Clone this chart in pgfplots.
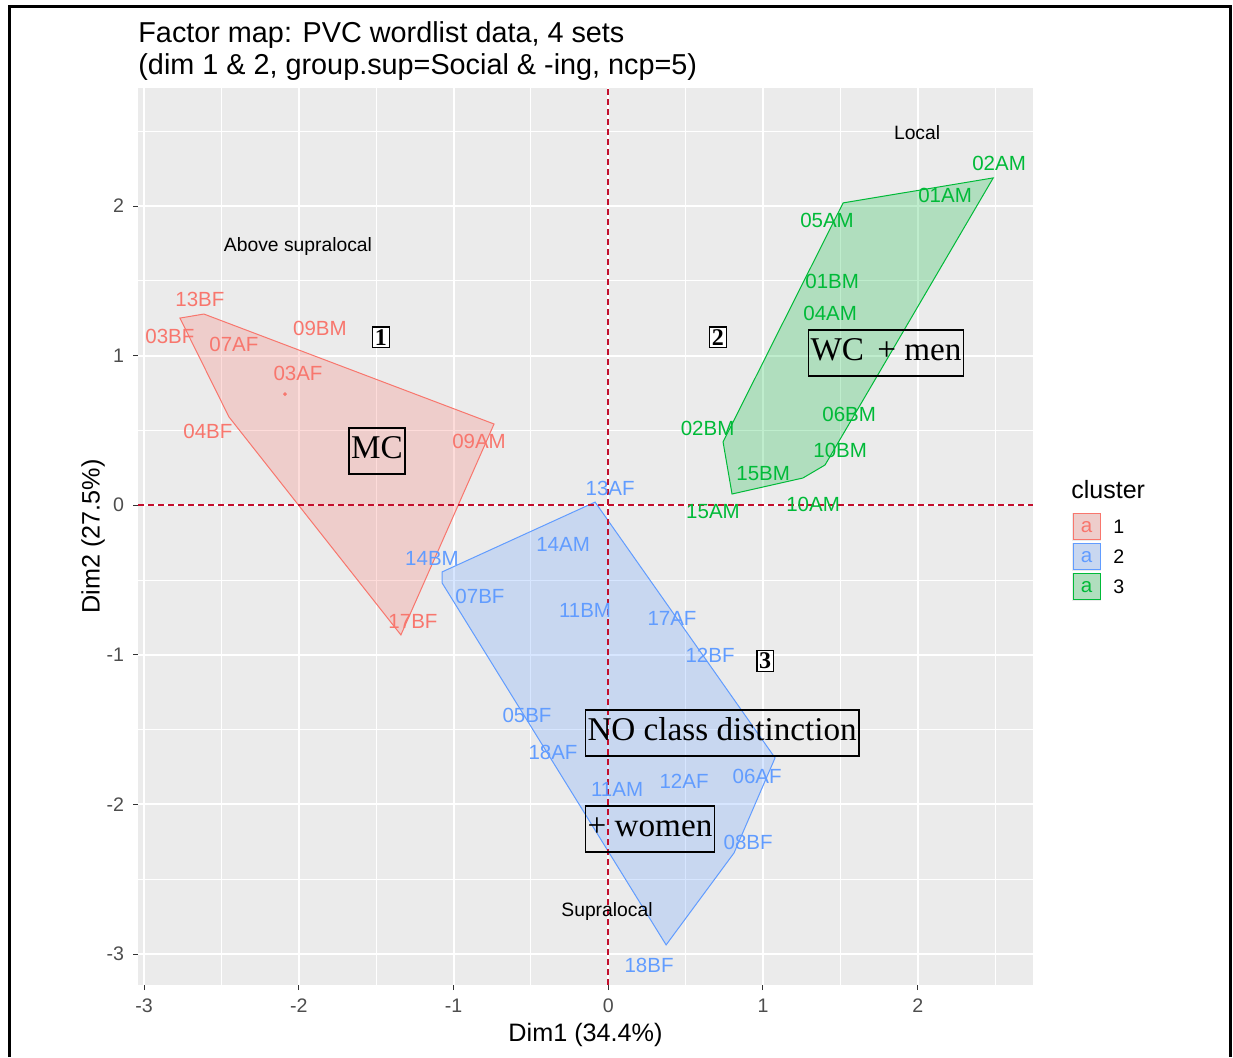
\documentclass[border=0pt]{standalone}
\usepackage{pgfplots}
\usepackage{pgfplotstable}
\pgfplotsset{compat=1.18}
\usepackage{fontspec}
\setmainfont{Liberation Sans}
\newfontfamily\annfont{Liberation Serif}
\definecolor{cr}{HTML}{F8766D}
\definecolor{cb}{HTML}{619CFF}
\definecolor{cg}{HTML}{00BA38}
\definecolor{panel}{HTML}{EBEBEB}
\definecolor{gray30}{HTML}{4D4D4D}
\definecolor{gray20}{HTML}{333333}
\definecolor{dashred}{RGB}{195,15,45}

\pgfplotstableread{
x y label
-2.639 1.378 13BF
-2.833 1.131 03BF
-2.419 1.078 07AF
-1.863 1.185 09BM
-2.005 0.884 03AF
-2.587 0.496 04BF
-0.835 0.429 09AM
-1.262 -0.777 17BF
}\labA
\pgfplotstableread{
x y label
0.012 0.115 13AF
-0.292 -0.259 14AM
-1.139 -0.353 14BM
-0.829 -0.613 07BF
-0.150 -0.701 11BM
0.412 -0.754 17AF
0.658 -1.001 12BF
-0.525 -1.402 05BF
-0.357 -1.650 18AF
0.057 -1.897 11AM
0.490 -1.843 12AF
0.962 -1.816 06AF
0.904 -2.251 08BF
0.264 -3.073 18BF
}\labB
\pgfplotstableread{
x y label
2.526 2.288 02AM
2.177 2.074 01AM
1.414 1.901 05AM
1.447 1.493 01BM
1.434 1.285 04AM
1.557 0.604 06BM
0.642 0.516 02BM
1.499 0.369 10BM
1.001 0.215 15BM
0.677 -0.045 15AM
1.324 0.008 10AM
}\labC
\pgfplotstableread{
x y label
-2.005 1.731 {Above supralocal}
1.996 2.488 Local
-0.008 -2.713 Supralocal
}\labS

\begin{document}
\begin{tikzpicture}
\useasboundingbox (0,0) rectangle (616.5pt,528.5pt);
% outer frame
\draw[line width=1.5pt] (4.5pt,0) -- (4.5pt,525pt) -- (615pt,525pt) -- (615pt,0);
\begin{axis}[
  at={(69pt,36pt)}, anchor=south west,
  scale only axis, width=447.5pt, height=448.5pt,
  xmin=-3.039, xmax=2.745, ymin=-3.207, ymax=2.789,
  axis background/.style={fill=panel},
  axis line style={draw=none},
  xtick={-3,-2,-1,0,1,2}, ytick={-3,-2,-1,0,1,2},
  minor xtick={-2.5,-1.5,-0.5,0.5,1.5,2.5},
  minor ytick={-2.5,-1.5,-0.5,0.5,1.5,2.5},
  grid=both,
  major grid style={white, line width=1.0pt},
  minor grid style={white, line width=0.5pt},
  tick align=outside, xtick pos=bottom, ytick pos=left,
  major tick length=2.5pt, minor tick length=0pt,
  tick style={gray20, line width=0.5pt},
  /pgf/number format/assume math mode=true,
  ticklabel style={font=\fontsize{9.8}{11}\selectfont, text=gray30},
  xticklabel style={yshift=-1pt},
  yticklabel style={xshift=-1pt},
  clip=true,
]
% hulls
\addplot[draw=cr, fill=cr, fill opacity=0.25, line width=0.5pt] coordinates {
(-2.768,1.251) (-2.613,1.278) (-0.738,0.543) (-1.340,-0.867) (-2.451,0.590)} -- cycle;
\addplot[draw=cb, fill=cb, fill opacity=0.25, line width=0.5pt] coordinates {
(-0.085,0.021) (-1.074,-0.446) (-1.074,-0.519) (0.374,-2.939) (0.813,-2.324) (1.078,-1.689)} -- cycle;
\addplot[draw=cg, fill=cg, fill opacity=0.25, line width=0.5pt] coordinates {
(1.518,2.021) (2.488,2.188) (1.401,0.269) (1.258,0.182) (0.800,0.075) (0.742,0.423)} -- cycle;
% reference lines
\addplot[dashred, dash pattern=on 3pt off 2pt, line width=0.9pt, forget plot] coordinates {(0,-3.207) (0,2.789)};
\addplot[dashred, dash pattern=on 3pt off 2pt, line width=0.9pt, forget plot] coordinates {(-3.039,0.002) (2.745,0.002)};
% cluster centre
\addplot[only marks, mark=*, mark size=0.7pt, cr] coordinates {(-2.089,0.743)};
% labels
\addplot[only marks, mark=none, nodes near coords, point meta=explicit symbolic,
  nodes near coords style={anchor=center, inner sep=0pt, text=cr, font=\fontsize{10.25}{12}\selectfont}]
  table[x=x, y=y, meta=label] {\labA};
\addplot[only marks, mark=none, nodes near coords, point meta=explicit symbolic,
  nodes near coords style={anchor=center, inner sep=0pt, text=cb, font=\fontsize{10.25}{12}\selectfont}]
  table[x=x, y=y, meta=label] {\labB};
\addplot[only marks, mark=none, nodes near coords, point meta=explicit symbolic,
  nodes near coords style={anchor=center, inner sep=0pt, text=cg, font=\fontsize{10.25}{12}\selectfont}]
  table[x=x, y=y, meta=label] {\labC};
\addplot[only marks, mark=none, nodes near coords, point meta=explicit symbolic,
  nodes near coords style={anchor=center, inner sep=0pt, text=black, font=\fontsize{9.65}{11}\selectfont}]
  table[x=x, y=y, meta=label] {\labS};
% annotations
\tikzset{numbox/.style={draw=black, fill=white, line width=0.8pt, inner sep=1.2pt, font=\annfont\bfseries\fontsize{12}{12}\selectfont},
         annbox/.style={draw=black, line width=0.8pt, inner xsep=1pt, inner ysep=2.5pt, font=\annfont\fontsize{16.6}{18}\selectfont}}
\node[numbox] at (axis cs:-1.469,1.124) {1};
\node[numbox] at (axis cs:0.709,1.124) {2};
\node[numbox] at (axis cs:1.014,-1.041) {3};
\node[annbox] at (axis cs:-1.495,0.362) {MC\strut};
\node[annbox] at (axis cs:1.795,1.017) {WC\hspace{0.4em}+ men\strut};
\node[annbox] at (axis cs:0.736,-1.523) {NO class distinction\strut};
\node[annbox] at (axis cs:0.270,-2.165) {+ women\strut};
\end{axis}
% titles
\node[anchor=base west, font=\fontsize{14.4}{16}\selectfont, inner sep=0pt] at (69pt,507pt) {Factor map: PVC wordlist data, 4 sets};
\node[anchor=base west, font=\fontsize{14.4}{16}\selectfont, inner sep=0pt] at (69pt,491pt) {(dim 1 \& 2, group.sup=Social \& -ing, ncp=5)};
\node[font=\fontsize{12.6}{14}\selectfont, inner sep=0pt] at (292.75pt,11pt) {Dim1 (34.4\%)};
\node[font=\fontsize{12.6}{14}\selectfont, inner sep=0pt, rotate=90] at (46.5pt,260.25pt) {Dim2 (27.5\%)};
% legend
\node[anchor=west, font=\fontsize{12.5}{14}\selectfont, inner sep=0pt] at (535.5pt,283.5pt) {cluster};
\foreach \c/\lab/\yy in {cr/1/265, cb/2/250, cg/3/235}{
  \fill[panel] (536pt,\yy pt-7pt) rectangle (550.5pt,\yy pt+7pt);
  \draw[draw=\c, fill=\c, fill opacity=0.25, line width=0.5pt] (536.5pt,\yy pt-6.5pt) rectangle (550pt,\yy pt+6.5pt);
  \node[text=\c, font=\fontsize{10.25}{12}\selectfont, inner sep=0pt] at (543.25pt,\yy pt) {a};
  \node[anchor=west, font=\fontsize{9.8}{11}\selectfont, inner sep=0pt] at (556.5pt,\yy pt) {\lab};
}
\end{tikzpicture}
\end{document}
